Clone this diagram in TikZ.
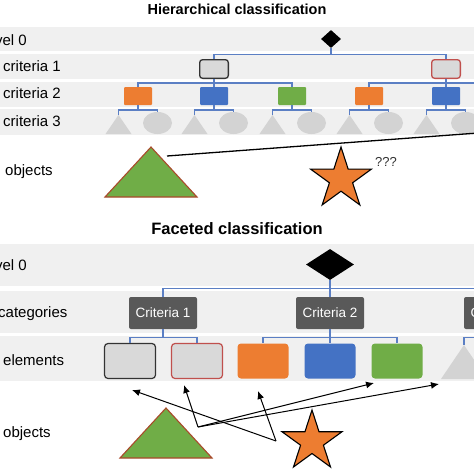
\documentclass[tikz,border=0pt]{standalone}
\usepackage{fontspec}
\setmainfont{Liberation Sans}
\usetikzlibrary{shapes.geometric,arrows.meta}
\definecolor{bandgray}{HTML}{F0F0F0}
\definecolor{treeblue}{HTML}{5B7FC4}
\definecolor{boxgray}{HTML}{D9D9D9}
\definecolor{shapegray}{HTML}{D3D3D3}
\definecolor{myorange}{HTML}{ED7D31}
\definecolor{myblue}{HTML}{4472C4}
\definecolor{mygreen}{HTML}{70AD47}
\definecolor{critdark}{HTML}{595959}
\definecolor{redge}{HTML}{C0504D}
\definecolor{darkedge}{HTML}{333333}
\definecolor{tribrown}{HTML}{A94A2B}
\begin{document}
\begin{tikzpicture}[x=1pt,y=-1pt,
  band/.style={fill=bandgray},
  tline/.style={draw=treeblue,line width=1.2pt},
  lab/.style={inner sep=0pt,font=\fontsize{15}{18}\selectfont,text=black},
  ttl/.style={inner sep=0pt,font=\bfseries\fontsize{14.5}{17}\selectfont},
  lvlzero/.style={diamond,fill=black,inner sep=0pt},
  cbox/.style={rectangle,rounded corners=3pt,fill=boxgray,line width=1.3pt,minimum width=28.7pt,minimum height=18.7pt,inner sep=0pt},
  csub/.style={rectangle,rounded corners=1pt,minimum width=28pt,minimum height=18pt,inner sep=0pt},
  critbox/.style={rectangle,rounded corners=2pt,fill=critdark,text=white,minimum width=68pt,minimum height=32pt,inner sep=0pt,font=\fontsize{13.5}{16}\selectfont},
  elbox/.style={rectangle,rounded corners=3.5pt,minimum width=51pt,minimum height=35pt,inner sep=0pt},
  elgray/.style={elbox,fill=boxgray,line width=1.2pt},
  gshape/.style={fill=shapegray},
  objtri/.style={fill=mygreen,draw=tribrown,line width=1.1pt,line join=miter},
  objstar/.style={fill=myorange,draw=black,line width=1.1pt,line join=miter},
  pointer/.style={draw=black,line width=1pt,-{Latex[length=8pt,width=7pt]}},
  plainline/.style={draw=black,line width=1.3pt}
]
\useasboundingbox (0,0) rectangle (474,474);
\clip (0,0) rectangle (474,474);
\fill[white] (0,0) rectangle (474,474);

% ================= Hierarchical =================
\node[ttl] (title1) at (237,9) {Hierarchical classification};
\fill[band] (0,27) rectangle (474,50.5);
\fill[band] (0,53.5) rectangle (474,79);
\fill[band] (0,81.5) rectangle (474,106.5);
\fill[band] (0,108.5) rectangle (474,134.5);

\node[lab,anchor=base east] (hl0) at (27,45) {Level 0};
\node[lab,anchor=base west] (hl1) at (3,71.5) {criteria 1};
\node[lab,anchor=base west] (hl2) at (3,98) {criteria 2};
\node[lab,anchor=base west] (hl3) at (3,126) {criteria 3};
\node[lab,anchor=base west] (hlo) at (5,175) {objects};

\node[lvlzero,minimum width=20pt,minimum height=18pt] (hd) at (331,39) {};
\node[cbox,draw=darkedge] (hc1a) at (214,69) {};
\node[cbox,draw=redge] (hc1b) at (446,69) {};

\node[csub,fill=myorange] (hc2a) at (138,96) {};
\node[csub,fill=myblue] (hc2b) at (214,96) {};
\node[csub,fill=mygreen] (hc2c) at (292,96) {};
\node[csub,fill=myorange] (hc2d) at (369,96) {};
\node[csub,fill=myblue] (hc2e) at (446,96) {};
\coordinate (hoff1) at (476,83);

% criteria 3 shapes
\foreach \n/\cx in {a/138,b/214,c/292,d/369,e/446}{
  \coordinate (ht\n) at (\cx-19.5,115);
  \fill[gshape] (ht\n) -- ++(-13,19) -- ++(26,0) -- cycle;
  \node[ellipse,gshape,minimum width=29pt,minimum height=22pt,inner sep=0pt] (he\n) at (\cx+19.5,123) {};
}

% tree connectors
\draw[tline] (hd.south) -- (hd.south |- 0,54.5) -| (hc1a.north);
\draw[tline] (hd.south |- 0,54.5) -| (hc1b.north);
\draw[tline] (hc1a.south) -- (hc1a.south |- 0,83) -| (hc2a.north);
\draw[tline] (hc1a.south |- 0,83) -- (hc2b.north);
\draw[tline] (hc1a.south |- 0,83) -| (hc2c.north);
\draw[tline] (hc1b.south) -- (hc1b.south |- 0,83) -| (hc2d.north);
\draw[tline] (hc1b.south |- 0,83) -- (hc2e.north);
\draw[tline] (hc1b.south |- 0,83) -- (hoff1);
\foreach \n in {a,b,c,d,e}{
  \draw[tline] (hc2\n.south) -- (hc2\n.south |- 0,110) -| (ht\n);
  \draw[tline] (hc2\n.south |- 0,110) -| (he\n.north);
}

% objects
\filldraw[objtri] (151,147) -- (105,197) -- (197,197) -- cycle;
\coordinate (hsrc) at (167,156);
\coordinate (hoff2) at (478,133);
\draw[plainline] (hsrc) -- (hoff2);
\coordinate (hsc) at (341,179);
\filldraw[objstar] (hsc) +(-90:32) -- +(-54:12.2) -- +(-18:32) -- +(18:12.2) -- +(54:32) -- +(90:12.2) -- +(126:32) -- +(162:12.2) -- +(198:32) -- +(234:12.2) -- cycle;
\node[inner sep=0pt,font=\fontsize{13}{15}\selectfont,text=darkedge] (hq) at (386,162) {???};

% ================= Faceted =================
\node[ttl,font=\bfseries\fontsize{16.5}{19}\selectfont] (title2) at (237,229) {Faceted classification};
\fill[band] (0,244) rectangle (474,285.5);
\fill[band] (0,290.5) rectangle (474,333);
\fill[band] (0,336) rectangle (474,381);

\node[lab,anchor=base east] (fl0) at (27,270) {Level 0};
\node[lab,anchor=base west] (fl1) at (-2,317) {categories};
\node[lab,anchor=base west] (fl2) at (3,365) {elements};
\node[lab,anchor=base west] (flo) at (3,437) {objects};

\node[lvlzero,minimum width=48pt,minimum height=31pt] (fd) at (330,264.5) {};
\node[critbox] (fc1) at (163,313) {Criteria 1};
\node[critbox] (fc2) at (330,313) {Criteria 2};
\node[critbox] (fc3) at (498,313) {Criteria 3};

\node[elgray,draw=darkedge] (fe1) at (130,361) {};
\node[elgray,draw=redge] (fe2) at (197,361) {};
\node[elbox,fill=myorange] (fe3) at (263,361) {};
\node[elbox,fill=myblue] (fe4) at (330,361) {};
\node[elbox,fill=mygreen] (fe5) at (397,361) {};
\coordinate (fgt) at (464,345);
\fill[gshape] (fgt) -- ++(-23,34) -- ++(46,0) -- cycle;

\draw[tline] (fd.south) -- (fd.south |- 0,288.5) -| (fc1.north);
\draw[tline] (fd.south |- 0,288.5) -- (fc2.north);
\draw[tline] (fd.south |- 0,288.5) -| (fc3.north);
\draw[tline] (fc1.south) -- (fc1.south |- 0,337.5) -| (fe1.north);
\draw[tline] (fc1.south |- 0,337.5) -| (fe2.north);
\draw[tline] (fc2.south) -- (fc2.south |- 0,337.5) -| (fe3.north);
\draw[tline] (fc2.south |- 0,337.5) -- (fe4.north);
\draw[tline] (fc2.south |- 0,337.5) -| (fe5.north);
\draw[tline] (fc3.south) -- (fc3.south |- 0,337.5) -| (fgt);

% objects
\filldraw[objtri] (166,408) -- (120,458) -- (212,458) -- cycle;
\coordinate (fsc) at (312,441.5);
\filldraw[objstar] (fsc) +(-90:31.5) -- +(-54:12) -- +(-18:31.5) -- +(18:12) -- +(54:31.5) -- +(90:12) -- +(126:31.5) -- +(162:12) -- +(198:31.5) -- +(234:12) -- cycle;

\coordinate (srcA) at (198,427);
\coordinate (srcB) at (276,441);
\coordinate (tgA1) at (184,385);
\coordinate (tgA2) at (374,383);
\coordinate (tgA3) at (439,384);
\coordinate (tgB1) at (132,390);
\coordinate (tgB2) at (258,391);
\draw[pointer] (srcA) -- (tgA1);
\draw[pointer] (srcA) -- (tgA2);
\draw[pointer] (srcA) -- (tgA3);
\draw[pointer] (srcB) -- (tgB1);
\draw[pointer] (srcB) -- (tgB2);
\end{tikzpicture}
\end{document}
